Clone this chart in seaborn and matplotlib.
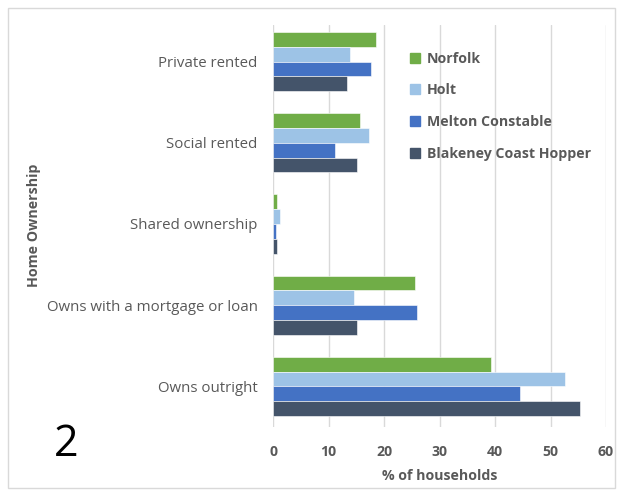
import matplotlib.pyplot as plt
import matplotlib.patches as mpatches
import pandas as pd
import seaborn as sns

# Values (% of households)
categories = ['Private rented', 'Social rented', 'Shared ownership',
              'Owns with a mortgage or loan', 'Owns outright']
areas = ['Norfolk', 'Holt', 'Melton Constable', 'Blakeney Coast Hopper']
norfolk = [18.5, 15.6, 0.7, 25.6, 39.3]
holt = [13.9, 17.3, 1.3, 14.6, 52.7]
melton = [17.6, 11.2, 0.5, 26.0, 44.5]
blakeney = [13.4, 15.2, 0.7, 15.1, 55.3]
colours = ['#70AD47', '#9DC3E6', '#4472C4', '#44546A']
x_ticks = [0, 10, 20, 30, 40, 50, 60]

rows = []
for area, vals in zip(areas, [norfolk, holt, melton, blakeney]):
    for cat, v in zip(categories, vals):
        rows.append({'Home Ownership': cat, 'Area': area, 'pct': v})
df = pd.DataFrame(rows)

sns.set_style('white')
plt.rcParams['font.family'] = ['Open Sans', 'DejaVu Sans']

fig = plt.figure(figsize=(6.23, 4.94), dpi=100)
ax = fig.add_axes([273 / 623, 1 - 427 / 494, 333 / 623, 402 / 494])

sns.barplot(data=df, y='Home Ownership', x='pct', hue='Area',
            order=categories, hue_order=areas, palette=colours,
            saturation=1, orient='h', width=0.73, edgecolor='white',
            linewidth=0.4, ax=ax)

ax.set_xlim(0, 60)
ax.set_ylim(4.5, -0.45)
ax.set_xticks(x_ticks)
ax.xaxis.grid(True, color='#D9D9D9', linewidth=1)
ax.set_axisbelow(True)
for s in ax.spines.values():
    s.set_visible(False)
ax.tick_params(axis='both', length=0)
ax.tick_params(axis='x', pad=13, labelcolor='#595959', labelsize=10.2)
ax.tick_params(axis='y', pad=11, labelcolor='#595959', labelsize=10.8)
for lbl in ax.get_xticklabels():
    lbl.set_fontweight('bold')

ax.set_xlabel('% of households', fontsize=10.2, fontweight='bold',
              color='#595959', labelpad=7)
ax.set_ylabel('')
fig.text(34 / 623, 1 - 225 / 494, 'Home Ownership', rotation=90,
         ha='center', va='center', fontsize=10.3, fontweight='bold',
         color='#595959')

handles = [mpatches.Patch(color=c, label=a) for c, a in zip(colours, areas)]
leg = ax.legend(handles=handles, loc='upper left',
                bbox_to_anchor=(404 / 333 - 273 / 333, 1.0 - 21 / 402),
                frameon=False, fontsize=10.2, handlelength=0.7,
                handleheight=0.7, handletextpad=0.5, labelspacing=1.25,
                borderaxespad=0)
for t in leg.get_texts():
    t.set_fontweight('bold')
    t.set_color('#595959')

fig.text(66 / 623, 1 - 445 / 494, '2', ha='center', va='center',
         fontsize=31, color='black')

fig.patches.append(mpatches.Rectangle((8 / 623, 6 / 494), 607 / 623,
                                      480 / 494, fill=False,
                                      edgecolor='#D9D9D9', linewidth=1,
                                      transform=fig.transFigure))

fig.savefig('out.png', dpi=100)
